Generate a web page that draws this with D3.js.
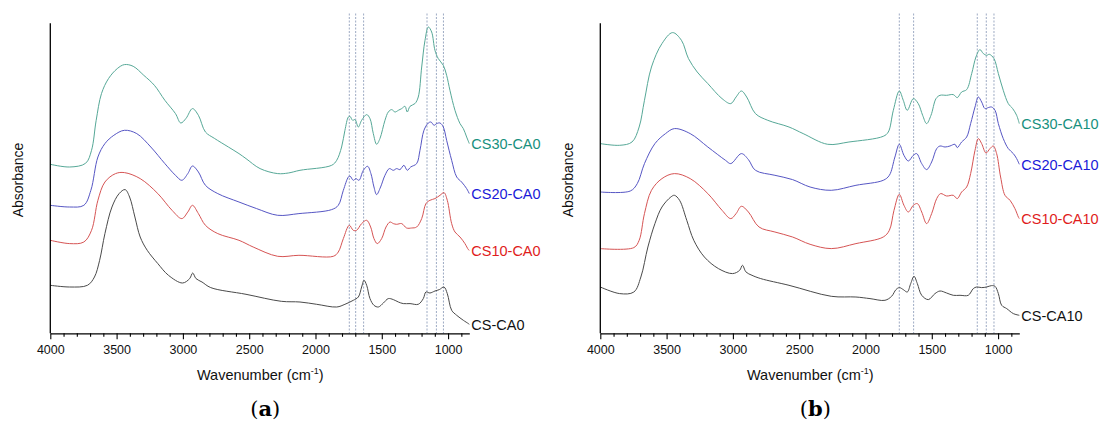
<!DOCTYPE html>
<html><head><meta charset="utf-8">
<script src="https://cdn.jsdelivr.net/npm/d3@7"></script>
<style>body{margin:0;background:#fff}svg{display:block}</style>
</head><body><svg id="chart" width="1102" height="426"></svg>
<script>
// ---------- DATA ----------
const majorTicks = [4000, 3500, 3000, 2500, 2000, 1500, 1000];
const xDomain = [4000, 840];
const yDomain = [0, 310]; // offset absorbance, arbitrary units

const labelsA = ["CS30-CA0", "CS20-CA0", "CS10-CA0", "CS-CA0"];
const labelsB = ["CS30-CA10", "CS20-CA10", "CS10-CA10", "CS-CA10"];
const dashedA = [1745, 1697, 1637, 1159, 1088, 1035];
const dashedB = [1745, 1637, 1157, 1089, 1031];

// [wavenumber, offset absorbance]
const cs30ca0 = [[4000,169],[3854,166.3],[3734,170],[3689,183],[3654,213],[3614,239.7],[3561,254.7],[3495,264.7],[3441,268.7],[3375,267],[3295,258],[3215,248],[3136,233],[3056,219.7],[3016,210.3],[2976,215],[2928,224.7],[2883,218],[2830,201.3],[2763,195],[2657,186.3],[2577,179.7],[2524,174.7],[2418,164.7],[2285,159.7],[2205,160.3],[2117,163],[1878,168],[1840,173],[1803,186.3],[1778,203],[1752,216.3],[1740,217],[1720,213],[1702,213.7],[1677,206.3],[1652,213],[1614,218.7],[1589,214.7],[1564,199.7],[1539,189],[1514,194.7],[1476,213],[1451,221.3],[1426,223.7],[1400,221.3],[1375,223],[1350,224.7],[1325,227],[1308,221.3],[1287,227],[1250,229.7],[1225,236.3],[1199,266.3],[1174,293],[1149,306.3],[1124,301.3],[1099,283],[1074,274.7],[1036,268],[1011,258],[986,243],[948,223],[910,209.7],[885,204.7],[860,196.3],[840,189.7]];
const cs20ca0 = [[4000,128],[3854,126.3],[3747,128],[3694,143],[3641,176.3],[3588,189.7],[3521,198],[3441,203],[3348,199.7],[3242,186.3],[3136,169.7],[3056,158],[3008,153],[2963,159.7],[2928,167.3],[2883,161.3],[2830,148],[2737,139.7],[2577,131.3],[2444,124.7],[2285,118],[2125,119.7],[1878,123.7],[1828,128],[1790,143],[1752,156.3],[1740,157.3],[1715,153],[1695,154.7],[1672,153],[1639,163],[1607,167],[1582,159.7],[1559,146.3],[1539,138.7],[1509,146.3],[1476,158],[1443,164.7],[1413,163],[1388,164.7],[1363,163.7],[1333,168],[1308,163],[1282,166.3],[1237,169.7],[1212,183],[1182,203],[1149,210.3],[1129,211.3],[1106,208],[1086,209.7],[1061,210.3],[1036,206.3],[1011,193],[973,173],[935,156.3],[898,151.3],[860,144.7],[840,139.7]];
const cs10ca0 = [[4000,93],[3854,89.7],[3747,91.3],[3689,103],[3641,133],[3588,151.3],[3508,159.7],[3441,160.7],[3322,154.7],[3189,139.7],[3082,123],[3008,114.7],[2963,121.3],[2928,128],[2883,119.7],[2830,108],[2737,99.7],[2577,93],[2470,86.3],[2285,77],[2125,78],[1866,77],[1828,81.3],[1790,94.7],[1745,108],[1715,103],[1690,103],[1652,109.7],[1614,113],[1584,106.3],[1559,94.7],[1534,89.7],[1501,94.7],[1468,106.3],[1438,111.3],[1413,109.7],[1388,109],[1350,109.7],[1313,105.3],[1275,105.3],[1237,106.3],[1199,114.7],[1167,129.7],[1137,133],[1099,134.7],[1061,138],[1031,140.7],[1006,133],[973,109.7],[948,101.3],[910,96.3],[873,89.7],[847,83.7],[840,83]];
const csca0 = [[4000,48],[3854,46.3],[3720,48],[3667,56.3],[3628,73],[3588,99.7],[3535,126.3],[3481,139.7],[3436,143.7],[3402,136.3],[3362,116.3],[3322,96.3],[3269,83],[3189,69.7],[3109,58],[3003,50.3],[2949,54.7],[2926,60.3],[2901,54.7],[2856,51.3],[2790,45.7],[2524,39],[2258,32],[2117,31.3],[1991,29],[1840,26.3],[1778,29],[1715,33],[1677,36.3],[1652,46.3],[1634,53],[1614,48],[1589,34.7],[1559,28],[1526,26.3],[1488,30.3],[1451,34.7],[1413,33.7],[1375,31.3],[1338,29.7],[1287,29.7],[1225,29],[1187,34.7],[1167,41.3],[1137,40.3],[1099,42.3],[1066,43.7],[1031,46.3],[1006,39.7],[973,23],[935,18],[885,13],[847,9.7],[840,9]];

const cs30ca10 = [[4000,189.7],[3854,188],[3761,191.3],[3707,206.3],[3667,233],[3614,266.3],[3535,289.7],[3455,300.7],[3388,293],[3335,274.7],[3269,261.3],[3189,249.7],[3082,234.7],[3016,229.7],[2976,236.3],[2936,242.3],[2896,236.3],[2830,219.7],[2737,213],[2577,206.3],[2470,199.7],[2285,189],[2125,191.3],[1866,197],[1828,201.3],[1790,223],[1745,242.3],[1715,233],[1685,223],[1639,234.7],[1602,229.7],[1569,218],[1539,209.7],[1506,218],[1468,234.7],[1438,238],[1388,238],[1338,238.7],[1308,235.7],[1275,241.3],[1237,243.7],[1199,259.7],[1167,276.3],[1137,283.7],[1111,279.7],[1086,278],[1066,279],[1031,274.7],[998,259.7],[961,243],[923,229.7],[890,224.7],[860,218],[840,209.7]];
const cs20ca10 = [[4000,141.3],[3774,142.3],[3721,149.7],[3667,169.7],[3588,189.7],[3508,199.7],[3441,204.7],[3322,199.7],[3189,186.3],[3056,173],[3016,169.7],[2936,179.7],[2883,173.7],[2830,163],[2683,158],[2550,153.7],[2418,146.3],[2258,143],[2072,148],[1866,153],[1820,158],[1778,176.3],[1745,189],[1710,178],[1677,172.3],[1639,178],[1614,179.7],[1576,169.7],[1539,163.7],[1501,171.3],[1463,184.7],[1438,187.3],[1400,186.3],[1363,187.3],[1325,189],[1308,185.7],[1275,191.3],[1237,196.3],[1207,209.7],[1174,226.3],[1149,236.3],[1124,231.3],[1099,224.7],[1074,225.7],[1049,226.3],[1023,223],[998,209.7],[961,194.7],[923,184.7],[885,179.7],[860,174.7],[840,169]];
const cs10ca10 = [[4000,84.7],[3747,85.7],[3707,93],[3667,119.7],[3614,143],[3535,154.7],[3441,159.7],[3322,154.7],[3189,139.7],[3082,123],[3016,114.7],[2976,119.7],[2936,127],[2883,121.3],[2803,106.3],[2683,101.3],[2550,96.3],[2418,89],[2258,84.7],[2072,89.7],[1866,96.3],[1820,103],[1785,123],[1745,139],[1710,128],[1677,121.3],[1639,128],[1609,129.7],[1576,121.3],[1539,109.7],[1501,119.7],[1463,134.7],[1433,139.7],[1388,137.3],[1338,138],[1308,134.7],[1275,141.3],[1237,146.3],[1207,159.7],[1174,183],[1149,194.7],[1124,189.7],[1091,180.3],[1061,184.7],[1036,187.3],[1011,179.7],[981,156.3],[948,138],[910,133],[873,124.7],[847,116.3],[840,114.7]];
const csca10 = [[4000,46.3],[3854,39.7],[3747,41.3],[3694,56.3],[3641,86.3],[3588,109.7],[3535,126.3],[3468,136.3],[3441,138],[3402,133],[3348,113],[3295,93],[3215,76.3],[3109,64.7],[3003,59.7],[2949,63],[2928,68],[2901,61.3],[2856,58],[2790,54.7],[2577,48],[2258,37],[2072,36.3],[1966,34.7],[1853,33],[1803,37],[1770,43.7],[1745,45.7],[1715,43.7],[1685,41.3],[1659,49.7],[1634,57],[1609,49.7],[1576,38],[1526,33.7],[1476,39.7],[1438,42.3],[1388,40.3],[1338,38],[1287,38],[1225,38],[1187,44.7],[1162,46.3],[1124,45.7],[1086,46.3],[1049,47.7],[1023,47],[998,39.7],[973,28],[935,24.7],[885,19.7],[840,18]];

const seriesA = [cs30ca0, cs20ca0, cs10ca0, csca0];
const seriesB = [cs30ca10, cs20ca10, cs10ca10, csca10];
const lineColors = ["#56a897", "#5656c4", "#d65454", "#4a4a4a"];
const labelColors = ["#17907e", "#1a1ad8", "#e01c1c", "#111111"];

// ---------- DRAW ----------
const svg = d3.select("#chart");
svg.append("rect").attr("width", 1102).attr("height", 426).attr("fill", "#fff");

function drawPanel(left, series, labels, dashes, caption) {
  const x = d3.scaleLinear().domain(xDomain).range([left, left + 419]);
  const y = d3.scaleLinear().domain(yDomain).range([333.3, 23.3]);
  const g = svg.append("g");

  g.selectAll("line.dash").data(dashes).enter().append("line")
    .attr("x1", d => x(d)).attr("x2", d => x(d))
    .attr("y1", 13.5).attr("y2", y(0))
    .attr("stroke", "#8494b4").attr("stroke-width", 0.8)
    .attr("stroke-dasharray", "2,1.5");

  const line = d3.line().x(d => x(d[0])).y(d => y(d[1]))
    .curve(d3.curveCatmullRom.alpha(0.5));

  series.forEach((s, i) => {
    g.append("path").datum(s).attr("d", line)
      .attr("fill", "none").attr("stroke", lineColors[i]).attr("stroke-width", 1);
    const last = s[s.length - 1];
    g.append("text").attr("x", x(last[0]) + 2).attr("y", y(last[1]))
      .attr("dy", "0.36em")
      .attr("font-family", "Liberation Sans, Arial, sans-serif")
      .attr("font-size", 14.5).attr("fill", labelColors[i]).text(labels[i]);
  });

  g.append("line").attr("x1", left).attr("x2", left)
    .attr("y1", 23.3).attr("y2", y(0))
    .attr("stroke", "#000").attr("stroke-width", 1.3);

  const minor = d3.range(4000, 840, -100);
  const ax = d3.axisBottom(x).tickValues(majorTicks).tickSize(6)
    .tickFormat(d3.format("d")).tickSizeOuter(0);
  const axg = g.append("g").attr("transform", `translate(0,${y(0)})`).call(ax);
  axg.select(".domain").attr("stroke", "#000").attr("stroke-width", 1.3);
  axg.selectAll(".tick line").attr("stroke", "#000").attr("stroke-width", 1.1);
  axg.selectAll(".tick text").attr("font-family", "Liberation Sans, Arial, sans-serif")
    .attr("font-size", 12.5).attr("fill", "#111").attr("dy", "0.9em");
  const axm = d3.axisBottom(x).tickValues(minor.filter(v => v % 500 !== 0))
    .tickSize(3.5).tickFormat("").tickSizeOuter(0);
  const amg = g.append("g").attr("transform", `translate(0,${y(0)})`).call(axm);
  amg.select(".domain").remove();
  amg.selectAll(".tick line").attr("stroke", "#000").attr("stroke-width", 1.1);

  const xt = g.append("text").attr("x", left + 210).attr("y", 380)
    .attr("text-anchor", "middle")
    .attr("font-family", "Liberation Sans, Arial, sans-serif")
    .attr("font-size", 14.5).attr("fill", "#111");
  xt.append("tspan").text("Wavenumber (cm");
  xt.append("tspan").attr("font-size", 9).attr("dy", -6).text("-1");
  xt.append("tspan").attr("dy", 6).text(")");

  g.append("text").attr("transform", `translate(${left - 27},180) rotate(-90)`)
    .attr("text-anchor", "middle")
    .attr("font-family", "Liberation Sans, Arial, sans-serif")
    .attr("font-size", 14).attr("fill", "#111").text("Absorbance");

  const cap = g.append("text").attr("x", left + 215).attr("y", 416)
    .attr("text-anchor", "middle")
    .attr("font-family", "DejaVu Serif, Liberation Serif, serif")
    .attr("font-size", 21).attr("fill", "#000");
  cap.append("tspan").text("(");
  cap.append("tspan").attr("font-weight", "bold").text(caption);
  cap.append("tspan").text(")");
}

drawPanel(50.3, seriesA, labelsA, dashedA, "a");
drawPanel(600.3, seriesB, labelsB, dashedB, "b");
</script></body></html>
